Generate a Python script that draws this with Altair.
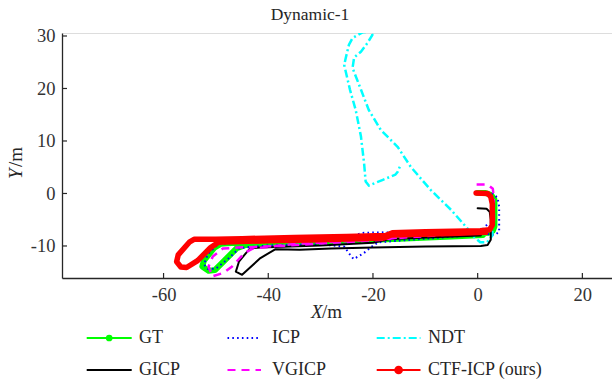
import altair as alt
import pandas as pd

# ---------------- data ----------------
gt_x = [0, 1.5, 2.6, 3.2, 3.2, 2.9, 2.0, -5, -15, -25, -35, -45, -49.1, -50.3, -52.3, -52.6, -51.4, -50.2, -47.9, -46.0, -44.3, -35, -25, -15, -5, 1.0]
gt_y = [0.1, 0.1, -0.3, -1.2, -6.3, -7.1, -7.5, -7.7, -8.1, -8.5, -8.9, -9.3, -9.6, -10.3, -12.8, -13.9, -14.7, -14.6, -12.3, -10.4, -9.8, -9.4, -9.0, -8.6, -8.2, -7.9]

icp_x = [0, 2.5, 3.8, 4.1, 4.1, 3.3, 1.0, -10, -18.4, -21.8, -23.5, -26, -35, -45, -49.5, -51.5, -52.3, -51.5, -50, -47.5, -45.5, -40, -30, -25.5, -24.5, -23.7, -21.8, -20.2, -19, -10, 0, 2.1]
icp_y = [0.3, 0.2, -0.8, -2.5, -7.3, -7.9, -7.6, -7.6, -7.4, -7.5, -7.9, -8.3, -8.8, -9.3, -9.6, -11.5, -13.5, -14.4, -14.3, -12.3, -10.4, -9.9, -9.7, -10.1, -11.5, -12.5, -11.4, -10.1, -9.3, -8.6, -7.9, -5.6]

ndt_x = [0, 2.3, 2.8, 2.8, 1.8, 0.5, -1.0, -2.0, -5.1, -9.0, -12.8, -15.3, -18.5, -20.8, -22.3, -23.9, -23.6, -22.3, -21.1, -20.1, -20.4, -22.0, -23.9, -24.6, -25.2, -25.5, -24.4, -23.3, -22.3, -21.7, -21.4, -20.8, -18.1, -15.7, -15.3, -14.7]
ndt_y = [0.1, -0.4, -2.0, -8.0, -9.3, -9.3, -8.0, -6.6, -3.1, 0.7, 5.1, 8.9, 12.1, 15.9, 19.8, 23.9, 25.9, 27.0, 28.6, 30.2, 30.9, 30.7, 29.6, 28.3, 25.8, 24.5, 19.8, 15.9, 10.9, 5.8, 2.3, 1.5, 2.6, 3.6, 4.1, 5.5]

gicp_x = [0, 1.7, 2.3, 2.5, 2.5, 1.9, 0.6, -10, -20, -28, -34, -38.6, -41.5, -45.0, -46.2, -45.6, -44.3, -43.4, -41.5, -30, -20, -17, -10, 0.6]
gicp_y = [-2.8, -2.9, -3.5, -5.0, -8.8, -9.8, -10.0, -10.1, -10.3, -10.5, -10.7, -10.6, -12.3, -15.5, -14.9, -13.0, -11.4, -10.4, -10.3, -9.9, -9.4, -8.7, -8.4, -8.0]

vg_x = [-0.2, 1.9, 2.9, 3.1, 3.1, 2.3, -1.3, -10.9, -17.6, -28.1, -37.6, -45.8, -48.7, -50.6, -51.4, -50.7, -48.5, -46.9, -44.5, -43.0, -35, -20, -5, 1.0]
vg_y = [1.7, 1.7, 0.9, -1.2, -6.2, -6.9, -7.1, -7.5, -8.8, -9.4, -10.0, -10.3, -10.5, -12.0, -13.9, -15.8, -15.1, -13.9, -11.3, -10.5, -9.6, -8.8, -7.8, -7.5]

ctf_x = [-0.3, 1.9, 2.5, 2.8, 2.8, 2.3, 0.5, -10, -16.3, -17.6, -25, -35, -45, -50, -54.1, -55.0, -57.2, -57.5, -56.7, -55.6, -53.5, -51.0, -49.5, -40, -30, -18, -16.5, -5, 1.5]
ctf_y = [0.1, 0.0, -0.6, -2.0, -6.0, -6.9, -7.1, -7.3, -7.5, -8.0, -8.2, -8.4, -8.6, -8.7, -8.7, -9.2, -11.7, -13.0, -14.0, -14.1, -12.8, -10.3, -9.3, -9.0, -8.8, -8.5, -7.9, -7.6, -7.4]

x_ticks = [-60, -40, -20, 0, 20]
y_ticks = [-10, 0, 10, 20, 30]
x_domain = [-79.4, 25.66]
y_domain = [-16.1, 30.57]

legend_names = ["GT", "ICP", "NDT", "GICP", "VGICP", "CTF-ICP (ours)"]

# ---------------- styling ----------------
W, H = 550, 245
FONT = "Liberation Serif"
AX = "#262626"
LBL = "#333333"

x_axis = alt.Axis(values=x_ticks, ticks=False, grid=False, title=None, domainColor=AX,
                  domainWidth=1.3, labelFont=FONT, labelFontSize=18.5, labelColor=LBL,
                  labelPadding=7, labelExpr="'' + datum.value", labelFlush=False)
y_axis = alt.Axis(values=y_ticks, ticks=False, grid=False, title=None, domainColor=AX,
                  domainWidth=1.3, labelFont=FONT, labelFontSize=18.5, labelColor=LBL,
                  labelPadding=7, labelExpr="'' + datum.value", labelFlush=False)


def X():
    return alt.X("x:Q", scale=alt.Scale(domain=x_domain, nice=False, zero=False), axis=x_axis)


def Y():
    return alt.Y("y:Q", scale=alt.Scale(domain=y_domain, nice=False, zero=False), axis=y_axis)


def path(xs, ys, color, width, dash=None):
    df = pd.DataFrame({"x": xs, "y": ys, "i": list(range(len(xs)))})
    kw = dict(color=color, strokeWidth=width, clip=True, strokeJoin="round",
              strokeCap="round" if dash is None else "butt")
    if dash is not None:
        kw["strokeDash"] = dash
    return alt.Chart(df).mark_line(**kw).encode(x=X(), y=Y(), order="i:Q")


layers = [
    path(gt_x, gt_y, "#00ff00", 6),
    path(icp_x, icp_y, "#0000ff", 2, [1.6, 3.2]),
    path(ndt_x, ndt_y, "#00ffff", 2.5, [8, 3, 2, 3]),
    path(gicp_x, gicp_y, "#000000", 2),
    path(vg_x, vg_y, "#ff00ff", 2.5, [8, 6]),
    path(ctf_x, ctf_y, "#ff0000", 5.5),
]

# inward tick marks (MATLAB style)
xt = alt.Chart(pd.DataFrame({"x": x_ticks})).mark_rule(color=AX, strokeWidth=1.2).encode(
    x=X(), y=alt.value(H), y2=alt.value(H - 5))
yt = alt.Chart(pd.DataFrame({"y": y_ticks})).mark_rule(color=AX, strokeWidth=1.2).encode(
    y=Y(), x=alt.value(0), x2=alt.value(5))

one = pd.DataFrame({"a": [0]})


def txt(text, px, py, size=18, style="normal", align="left", angle=0, baseline="middle"):
    return alt.Chart(one).mark_text(text=text, font=FONT, fontSize=size, fontStyle=style,
                                    color="#262626", align=align, baseline=baseline,
                                    angle=angle).encode(x=alt.value(px), y=alt.value(py))


def rule(x1, x2, py, color, width, dash=None):
    kw = dict(color=color, strokeWidth=width)
    if dash is not None:
        kw["strokeDash"] = dash
    return alt.Chart(one).mark_rule(**kw).encode(x=alt.value(x1), x2=alt.value(x2), y=alt.value(py))


def dot(px, py, color, size):
    return alt.Chart(one).mark_point(filled=True, color=color, size=size, opacity=1,
                                     shape="circle").encode(x=alt.value(px), y=alt.value(py))


OX, OY = 62, 33  # plot origin in page pixels
r1, r2 = 338 - OY, 370 - OY
cols = [(86.7 - OX, 131.7 - OX, 139 - OX), (227.5 - OX, 261 - OX, 272 - OX), (376.7 - OX, 420.5 - OX, 428 - OX)]

legend = [
    rule(cols[0][0], cols[0][1], r1, "#00ff00", 2), dot((cols[0][0] + cols[0][1]) / 2, r1, "#00ff00", 45),
    txt(legend_names[0], cols[0][2], r1),
    rule(cols[1][0], cols[1][1], r1, "#0000ff", 2, [1.6, 3.2]), txt(legend_names[1], cols[1][2], r1),
    rule(cols[2][0], cols[2][1], r1, "#00ffff", 2, [8, 3, 2, 3]), txt(legend_names[2], cols[2][2], r1),
    rule(cols[0][0], cols[0][1], r2, "#000000", 2), txt(legend_names[3], cols[0][2], r2),
    rule(cols[1][0], cols[1][1], r2, "#ff00ff", 2, [8, 6]), txt(legend_names[4], cols[1][2], r2),
    rule(cols[2][0], cols[2][1], r2, "#ff0000", 2), dot((cols[2][0] + cols[2][1]) / 2, r2, "#ff0000", 75),
    txt(legend_names[5], cols[2][2], r2),
]

titles = [
    txt("Dynamic-1", 310 - OX, 15 - OY, size=17.5, align="center"),
    txt("X", 311 - OX, 312 - OY, size=19, style="italic"),
    txt("/m", 322 - OX, 312 - OY, size=19),
    txt("Y", 16 - OX, 179 - OY, size=19, style="italic", angle=270),
    txt("/m", 16 - OX, 167 - OY, size=19, angle=270),
]

chart = alt.layer(*layers, xt, yt, *legend, *titles).properties(
    width=W, height=H,
    autosize=alt.AutoSizeParams(type="none"),
    padding={"left": OX, "top": OY, "right": 0, "bottom": 385 - OY - H},
).configure_view(stroke=None).configure(background="white")

chart.save("out.html", embed_options={"renderer": "svg", "actions": False})
